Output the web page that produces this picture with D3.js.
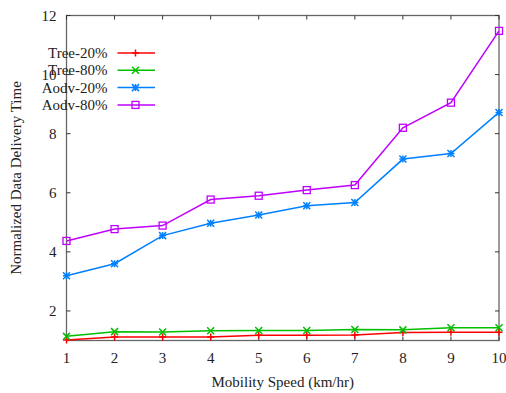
<!DOCTYPE html>
<html>
<head>
<meta charset="utf-8">
<script src="https://cdn.jsdelivr.net/npm/d3@7"></script>
<style>
  body { margin: 0; background: #fff; }
</style>
</head>
<body>
<div id="chart"></div>
<script>
// mobility speed (km/hr)
var speeds = [1, 2, 3, 4, 5, 6, 7, 8, 9, 10];
var tree20 = [1.02, 1.12, 1.12, 1.12, 1.18, 1.18, 1.19, 1.27, 1.28, 1.28];
var tree80 = [1.14, 1.30, 1.29, 1.33, 1.34, 1.34, 1.37, 1.36, 1.43, 1.43];
var aodv20 = [3.19, 3.60, 4.55, 4.97, 5.25, 5.56, 5.67, 7.14, 7.33, 8.72];
var aodv80 = [4.37, 4.77, 4.89, 5.77, 5.90, 6.09, 6.26, 8.20, 9.05, 11.48];
var yTicks = [2, 4, 6, 8, 10, 12];

var series = [
  { name: "Tree-20%", values: tree20, color: "#ff0000", marker: "plus" },
  { name: "Tree-80%", values: tree80, color: "#00c000", marker: "cross" },
  { name: "Aodv-20%", values: aodv20, color: "#0080ff", marker: "star" },
  { name: "Aodv-80%", values: aodv80, color: "#c000ff", marker: "square" }
];

var FONT = "'Liberation Serif', 'Times New Roman', Times, 'DejaVu Serif', serif";
var W = 506, H = 393;
var m = { left: 66.5, right: 7, top: 15.5, bottom: 52.5 };
var w = W - m.left - m.right, h = H - m.top - m.bottom;

var svg = d3.select("#chart").append("svg")
    .attr("width", W)
    .attr("height", H)
    .style("font-family", FONT)
  .append("g")
    .attr("transform", "translate(" + m.left + "," + m.top + ")");

var x = d3.scaleLinear().domain([1, 10]).range([0, w]);
var y = d3.scaleLinear().domain([1, 12]).range([h, 0]);

function label(sel) {
  return sel.style("font-family", FONT).style("font-size", "15px").attr("fill", "#222");
}

// frame
svg.append("rect")
    .attr("width", w).attr("height", h)
    .attr("fill", "none")
    .attr("stroke", "#666")
    .attr("stroke-width", 1.3);

// ticks (inward, mirrored)
var tl = 4;
svg.append("g").selectAll("line").data(speeds).enter().append("line")
    .attr("x1", x).attr("x2", x).attr("y1", h).attr("y2", h - tl)
    .attr("stroke", "#333");
svg.append("g").selectAll("line").data(speeds).enter().append("line")
    .attr("x1", x).attr("x2", x).attr("y1", 0).attr("y2", tl)
    .attr("stroke", "#333");
svg.append("g").selectAll("line").data(yTicks).enter().append("line")
    .attr("y1", y).attr("y2", y).attr("x1", 0).attr("x2", tl)
    .attr("stroke", "#333");
svg.append("g").selectAll("line").data(yTicks).enter().append("line")
    .attr("y1", y).attr("y2", y).attr("x1", w).attr("x2", w - tl)
    .attr("stroke", "#333");

// tick labels
svg.append("g").selectAll("text").data(speeds).enter().append("text")
    .attr("x", x).attr("y", h + 22)
    .attr("text-anchor", "middle")
    .call(label)
    .text(function(d){ return d; });
svg.append("g").selectAll("text").data(yTicks).enter().append("text")
    .attr("x", -10).attr("y", function(d){ return y(d) + 5; })
    .attr("text-anchor", "end")
    .call(label)
    .text(function(d){ return d; });

// axis titles
svg.append("text")
    .attr("x", w / 2).attr("y", h + 46)
    .attr("text-anchor", "middle")
    .call(label)
    .text("Mobility Speed (km/hr)");
svg.append("text")
    .attr("transform", "translate(" + (-46) + "," + (h / 2) + ") rotate(-90)")
    .attr("text-anchor", "middle")
    .call(label)
    .text("Normalized Data Delivery Time");

function drawMarker(g, type, color) {
  var s = 3.5;
  if (type === "plus" || type === "star") {
    g.append("path").attr("d", "M" + (-s) + ",0H" + s + "M0," + (-s) + "V" + s)
      .attr("stroke", color).attr("stroke-width", 1.5);
  }
  if (type === "cross" || type === "star") {
    g.append("path").attr("d", "M" + (-s) + "," + (-s) + "L" + s + "," + s + "M" + (-s) + "," + s + "L" + s + "," + (-s))
      .attr("stroke", color).attr("stroke-width", 1.5);
  }
  if (type === "square") {
    g.append("rect").attr("x", -s).attr("y", -s).attr("width", 2 * s).attr("height", 2 * s)
      .attr("fill", "none").attr("stroke", color).attr("stroke-width", 1.3);
  }
}

var line = d3.line()
    .x(function(d, i){ return x(speeds[i]); })
    .y(function(d){ return y(d); });

series.forEach(function(s){
  svg.append("path")
      .datum(s.values)
      .attr("d", line)
      .attr("fill", "none")
      .attr("stroke", s.color)
      .attr("stroke-width", 1.5);
  s.values.forEach(function(v, i){
    var g = svg.append("g").attr("transform", "translate(" + x(speeds[i]) + "," + y(v) + ")");
    drawMarker(g, s.marker, s.color);
  });
});

// legend
var legend = svg.append("g");
series.forEach(function(s, i){
  var ly = 37.5 + i * 17.3;
  legend.append("text")
      .attr("x", 41).attr("y", ly + 5)
      .attr("text-anchor", "end")
      .call(label)
      .text(s.name);
  legend.append("line")
      .attr("x1", 51).attr("x2", 88.5).attr("y1", ly).attr("y2", ly)
      .attr("stroke", s.color).attr("stroke-width", 1.5);
  drawMarker(legend.append("g").attr("transform", "translate(" + 69 + "," + ly + ")"), s.marker, s.color);
});
</script>
</body>
</html>
